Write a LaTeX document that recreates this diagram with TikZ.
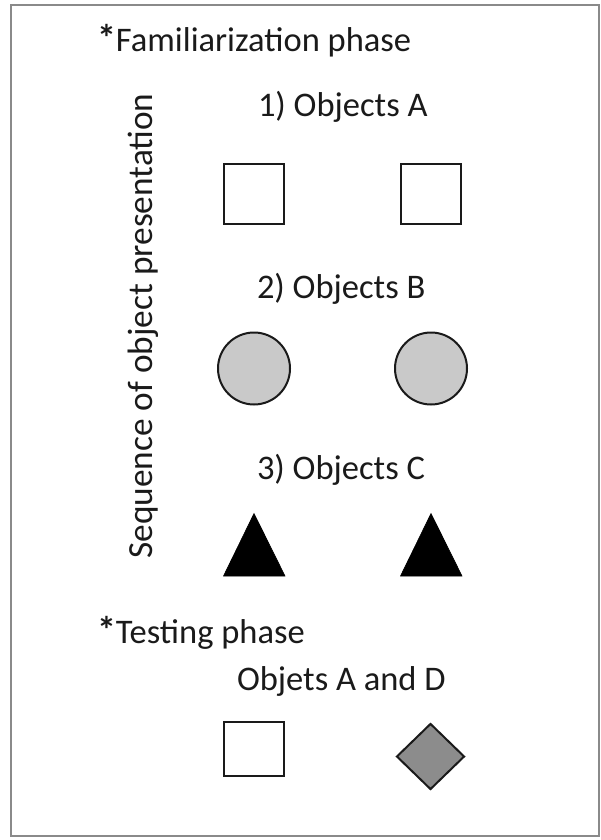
\documentclass[tikz,border=0pt]{standalone}
\usepackage{fontspec}
\setmainfont{Carlito}
\usetikzlibrary{shapes.geometric}

\definecolor{ink}{HTML}{1A1A1A}
\definecolor{framegray}{HTML}{8A8A8A}
\definecolor{lightfill}{HTML}{C9C9C9}
\definecolor{darkfill}{HTML}{8C8C8C}

\newcommand{\phasemark}{{\bfseries\fontsize{38}{40}\selectfont *}}

\tikzset{
  label/.style={inner sep=0pt, outer sep=0pt, anchor=base west,
                font=\fontsize{34.5}{40}\selectfont, text=ink},
  squarebox/.style={draw=ink, line width=2pt, fill=white, rectangle,
                    minimum width=60pt, minimum height=60pt, inner sep=0pt},
  disc/.style={draw=ink, line width=2pt, fill=lightfill, circle,
               minimum size=72pt, inner sep=0pt},
  rhombus/.style={draw=ink, line width=2pt, fill=darkfill, diamond,
                  minimum width=68pt, minimum height=66pt, inner sep=0pt},
  wedge/.style={fill=black, draw=black, line width=0.6pt, line join=miter},
}

\begin{document}
\begin{tikzpicture}[x=1pt, y=-1pt]
  \useasboundingbox (0,0) rectangle (600,840);
  \fill[white] (0,0) rectangle (600,840);

  % outer frame
  \draw[framegray, line width=1.4pt] (11,5) rectangle (599,836);

  % headings
  \node[label] (famhead) at (97,52) {\phasemark Familiarization phase};
  \node[label] (testhead) at (97,643) {\phasemark Testing phase};

  % vertical axis caption
  \node[inner sep=0pt, rotate=90, anchor=base,
        font=\fontsize{35.3}{40}\selectfont, text=ink] (seq) at (152,326)
        {Sequence of object presentation};

  % step 1: squares
  \node[label] (capA) at (258,117) {1) Objects A};
  \node[squarebox] (sqA1) at (253.5,193.5) {};
  \node[squarebox] (sqA2) at (430.5,193.5) {};

  % step 2: circles
  \node[label] (capB) at (257,298) {2) Objects B};
  \node[disc] (ciB1) at (254,368.5) {};
  \node[disc] (ciB2) at (431,368.5) {};

  % step 3: triangles
  \node[label] (capC) at (257,479) {3) Objects C};
  \coordinate (tC1a) at (223.5,576);
  \coordinate (tC1b) at (285,576);
  \coordinate (tC1c) at (254,513.5);
  \coordinate (tC2a) at (400.5,576);
  \coordinate (tC2b) at (462,576);
  \coordinate (tC2c) at (431,513.5);
  \filldraw[wedge] (tC1a) -- (tC1b) -- (tC1c) -- cycle;
  \filldraw[wedge] (tC2a) -- (tC2b) -- (tC2c) -- cycle;

  % test objects
  \node[label] (capT) at (237,690) {Objets A and D};
  \node[squarebox, minimum height=54pt] (sqT) at (254,749) {};
  \node[rhombus] (rhT) at (430.5,756.5) {};
\end{tikzpicture}
\end{document}
